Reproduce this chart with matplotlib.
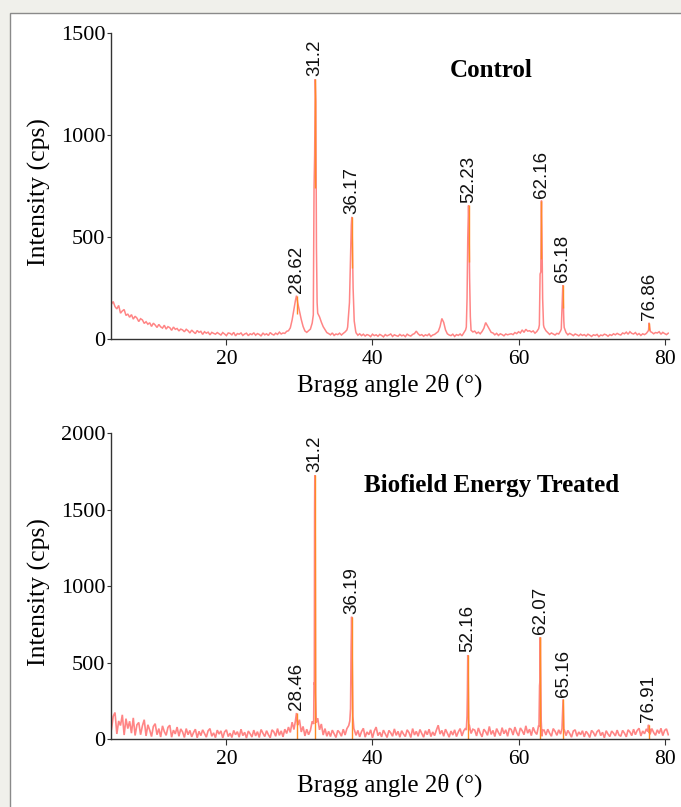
import numpy as np
import matplotlib
matplotlib.use('Agg')
import matplotlib.pyplot as plt
from matplotlib.patches import Rectangle

# baseline samples, every 0.25 deg from 4.0 to 80.5
base_x = np.arange(4.0, 80.51, 0.25)

ctrl_base = [
    198, 172, 185, 160, 149, 166, 128, 139, 146, 117, 124, 108, 121, 99, 113, 104, 87, 101, 95, 78,
    86, 74, 81, 63, 79, 70, 58, 73, 61, 55, 69, 50, 62, 57, 44, 60, 49, 53, 41, 50,
    46, 37, 49, 42, 31, 45, 36, 28, 43, 34, 39, 24, 37, 30, 35, 22, 34, 29, 25, 33,
    27, 21, 33, 26, 18, 31, 29, 22, 34, 17, 28, 25, 31, 19, 26, 30, 18, 27, 23, 32,
    20, 28, 24, 16, 31, 22, 27, 19, 33, 25, 21, 30, 24, 35, 26, 31, 29, 39, 42, 56,
    95, 148, 198, 181, 140, 97, 63, 41, 34, 42, 50, 80, 150, 150, 128, 110, 84, 62, 47, 33,
    28, 22, 31, 19, 26, 23, 30, 21, 29, 36, 46, 150, 150, 150, 150, 32, 20, 27, 18, 25,
    16, 23, 20, 13, 25, 18, 22, 15, 24, 19, 12, 23, 17, 21, 26, 14, 22, 18, 15, 24,
    17, 21, 13, 25, 19, 16, 24, 28, 40, 27, 19, 23, 15, 22, 18, 26, 14, 21, 24, 31,
    38, 62, 102, 83, 46, 27, 21, 18, 25, 14, 23, 19, 26, 17, 31, 46, 150, 150, 44, 36,
    40, 29, 35, 27, 38, 54, 82, 66, 51, 34, 31, 22, 29, 19, 27, 23, 17, 26, 22, 25,
    27, 23, 33, 28, 37, 31, 46, 34, 49, 40, 42, 36, 41, 30, 38, 52, 150, 150, 58, 42,
    33, 24, 31, 26, 21, 29, 26, 41, 150, 58, 33, 22, 29, 24, 18, 26, 22, 17, 25, 19,
    23, 16, 25, 20, 14, 22, 19, 24, 13, 21, 18, 25, 22, 15, 23, 19, 27, 22, 29, 24,
    21, 31, 27, 35, 25, 37, 29, 26, 33, 22, 28, 19, 27, 23, 29, 41, 60, 34, 27, 33,
    31, 37, 25, 34, 28, 23, 30,
]

trt_base = [
    210, 60, 150, 175, 35, 120, 90, 160, 28, 135, 70, 118, 40, 140, 25, 95, 110, 30, 88, 128,
    22, 95, 60, 18, 84, 102, 30, 70, 15, 88, 50, 26, 78, 92, 14, 60, 35, 80, 20, 68,
    48, 12, 70, 30, 58, 16, 44, 66, 10, 52, 24, 62, 38, 14, 56, 70, 20, 42, 11, 60,
    34, 55, 9, 48, 62, 18, 40, 12, 58, 30, 50, 14, 66, 24, 46, 8, 54, 36, 15, 60,
    22, 50, 12, 64, 40, 18, 56, 30, 10, 62, 48, 20, 70, 26, 55, 16, 66, 38, 80, 45,
    112, 64, 150, 92, 128, 48, 84, 22, 66, 30, 58, 118, 150, 150, 138, 62, 100, 28, 70, 20,
    52, 18, 60, 36, 12, 58, 44, 20, 66, 28, 70, 90, 150, 150, 64, 26, 58, 16, 50, 72,
    14, 48, 30, 62, 10, 54, 80, 24, 46, 16, 60, 36, 12, 58, 42, 20, 68, 26, 52, 14,
    56, 34, 18, 62, 44, 12, 70, 28, 52, 20, 64, 38, 14, 56, 30, 66, 18, 48, 24, 60,
    92, 34, 58, 20, 66, 40, 14, 54, 28, 62, 18, 48, 70, 22, 56, 72, 150, 94, 38, 66,
    60, 22, 74, 40, 16, 66, 50, 26, 84, 32, 58, 18, 70, 44, 24, 76, 36, 62, 20, 72,
    64, 28, 80, 44, 22, 74, 56, 30, 88, 40, 66, 24, 78, 48, 32, 90, 150, 150, 60, 28,
    66, 40, 20, 70, 52, 26, 62, 34, 150, 64, 24, 58, 38, 14, 54, 62, 20, 48, 30, 56,
    16, 52, 36, 12, 58, 44, 20, 50, 62, 24, 46, 10, 56, 34, 18, 54, 40, 22, 60, 28,
    20, 58, 40, 16, 62, 48, 24, 66, 30, 58, 72, 22, 54, 36, 68, 80, 32, 70, 44, 26,
    62, 38, 72, 24, 58, 68, 30,
]

# sharp reflections: (angle points, intensity points) as drawn
ctrl_peaks = [
    ([29.45, 29.6, 29.7], [190, 214, 195]),
    ([31.9, 32.0, 32.08, 32.17, 32.25, 32.33, 32.42], [120, 745, 900, 1275, 1168, 450, 180]),
    ([36.6, 36.85, 37.0, 37.1, 37.17, 37.25, 37.35, 37.5, 37.7], [60, 180, 397, 560, 600, 470, 250, 90, 40]),
    ([52.85, 52.95, 53.05, 53.15, 53.22, 53.3, 53.4], [60, 200, 500, 656, 560, 300, 110]),
    ([62.85, 62.95, 63.05, 63.1, 63.14, 63.2, 63.3, 63.42], [70, 320, 330, 600, 680, 520, 200, 70]),
    ([65.85, 65.95, 66.02, 66.06, 66.12, 66.2], [50, 160, 240, 265, 200, 90]),
    ([77.8, 77.87, 77.95, 78.05], [45, 81, 60, 38]),
]
ctrl_labels = ['28.62', '31.2', '36.17', '52.23', '62.16', '65.18', '76.86']

trt_peaks = [
    ([29.45, 29.6, 29.7], [120, 172, 110]),
    ([31.95, 32.0, 32.04, 32.08, 32.11, 32.16, 32.22, 32.3], [100, 370, 360, 1500, 1727, 1300, 300, 110]),
    ([36.9, 37.0, 37.08, 37.15, 37.22, 37.32, 37.45], [120, 200, 600, 801, 550, 150, 70]),
    ([52.85, 52.95, 53.0, 53.05, 53.1, 53.17, 53.22], [60, 150, 300, 551, 420, 140, 60]),
    ([62.8, 62.88, 62.93, 62.98, 63.04, 63.1, 63.2, 63.3], [80, 350, 380, 667, 400, 120, 20, 60]),
    ([65.95, 66.03, 66.1, 66.16, 66.22], [70, 180, 261, 150, 50]),
    ([77.7, 77.8, 77.88, 77.95], [50, 95, 40, 70]),
]
trt_labels = ['28.46', '31.2', '36.19', '52.16', '62.07', '65.16', '76.91']

PINK = '#ff8585'
ORANGE = '#ff8a25'
SERIF = 'Liberation Serif'
SANS = 'Liberation Sans'


def build_trace(base_y, peaks):
    x = base_x.copy()
    y = np.array(base_y, dtype=float)
    keep = np.ones(len(x), dtype=bool)
    for px, py in peaks:
        keep &= ~((x >= min(px)) & (x <= max(px)))
    xs = np.concatenate([x[keep]] + [np.array(p[0]) for p in peaks])
    ys = np.concatenate([y[keep]] + [np.array(p[1], dtype=float) for p in peaks])
    order = np.argsort(xs)
    return xs[order], ys[order]


def draw_panel(ax, base_y, peaks, labels, ymax, title, title_y, orange_frac, lw):
    xs, ys = build_trace(base_y, peaks)
    ax.plot(xs, ys, color=PINK, lw=lw, solid_joinstyle='miter')
    for (px, py), lbl in zip(peaks, labels):
        i = int(np.argmax(py))
        top_x, top_y = px[i], py[i]
        ax.vlines(top_x, top_y * orange_frac, top_y, color=ORANGE, lw=1.0)
        ax.annotate(lbl, (top_x, top_y), xytext=(0, 2), textcoords='offset points',
                    rotation=90, ha='center', va='bottom', fontsize=13.5,
                    family=SANS, color='#111111')

    ax.set_xlim(4.2, 80.6)
    ax.set_ylim(0, ymax)
    ax.set_xticks([20, 40, 60, 80])
    ax.set_yticks(np.arange(0, ymax + 1, 500))
    for s in ['top', 'right']:
        ax.spines[s].set_visible(False)
    for s in ['left', 'bottom']:
        ax.spines[s].set_color('#333333')
        ax.spines[s].set_linewidth(1.0)
    ax.tick_params(axis='x', length=4, pad=3.5, labelsize=15.5, color='#333333')
    ax.tick_params(axis='y', length=3, pad=1, labelsize=16, color='#333333')
    for t in ax.get_xticklabels() + ax.get_yticklabels():
        t.set_family(SERIF)

    ax.set_xlabel('Bragg angle 2θ (°)', fontsize=18, family=SERIF)
    ax.set_ylabel('Intensity (cps)', fontsize=18.5, family=SERIF)
    ax.xaxis.set_label_coords(0.5, -0.112)
    ax.yaxis.set_label_coords(-0.108, 0.48)
    ax.text(0.682, title_y, title, transform=ax.transAxes, ha='center', va='center',
            fontsize=18, fontweight='bold', family=SERIF)


fig = plt.figure(figsize=(6.81, 8.07), dpi=100, facecolor='#f0f0eb')
# white page panel with its thin grey frame
bg = fig.add_axes([0, 0, 1, 1], zorder=-10)
bg.set_xlim(0, 681)
bg.set_ylim(807, 0)
bg.axis('off')
bg.add_patch(Rectangle((10, 13), 700, 820, facecolor='white', edgecolor='#8a8a8a', lw=1.0))

ax1 = fig.add_axes([111 / 681, (807 - 339.3) / 807, 558 / 681, 306 / 807])
ax2 = fig.add_axes([111 / 681, (807 - 739.3) / 807, 558 / 681, 306 / 807])
for ax in (ax1, ax2):
    ax.set_facecolor('none')

draw_panel(ax1, ctrl_base, ctrl_peaks, ctrl_labels, 1500, 'Control', 0.880, 0.58, 1.1)
draw_panel(ax2, trt_base, trt_peaks, trt_labels, 2000, 'Biofield Energy Treated', 0.831, 0.0, 1.2)

fig.savefig('out.png', dpi=100, facecolor=fig.get_facecolor())
